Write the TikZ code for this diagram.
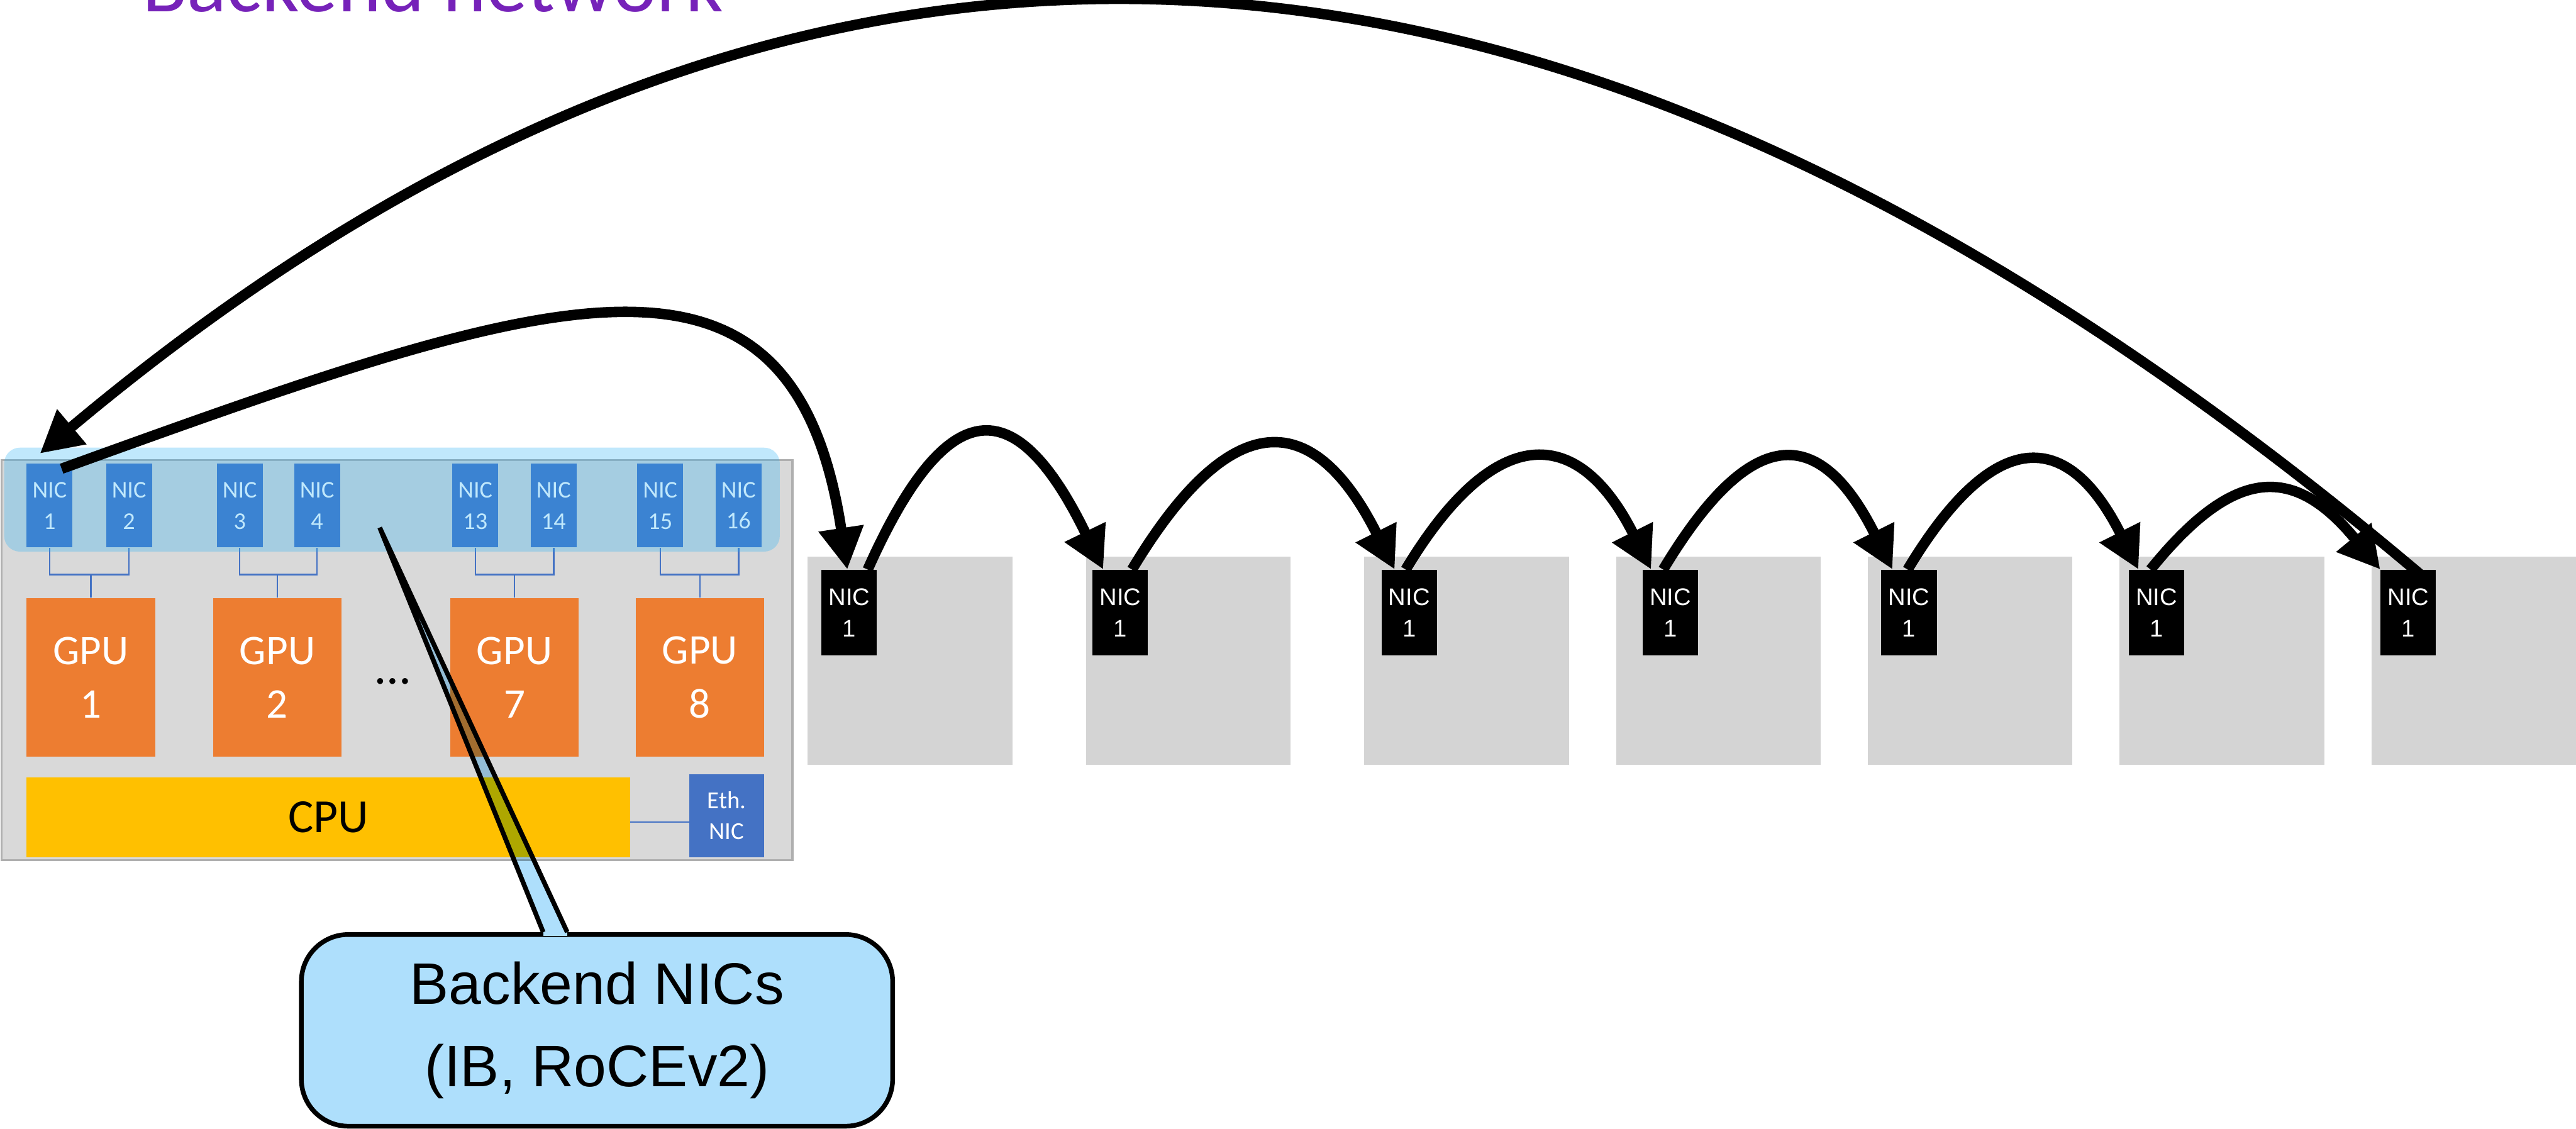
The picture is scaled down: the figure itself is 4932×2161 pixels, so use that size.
\documentclass[tikz,border=0pt]{standalone}
\usepackage{fontspec}
\setmainfont{Liberation Sans}
\newfontfamily\calibri{Carlito}
\usetikzlibrary{arrows.meta}

\definecolor{srvgray}{RGB}{217,217,217}
\definecolor{srvedge}{RGB}{175,175,175}
\definecolor{boxgray}{RGB}{212,212,212}
\definecolor{nicblue}{RGB}{68,114,196}
\definecolor{gpuorange}{RGB}{237,125,49}
\definecolor{cpuyellow}{RGB}{255,192,0}
\definecolor{hlblue}{RGB}{38,176,245}
\definecolor{noteblue}{RGB}{174,223,252}
\definecolor{titlepurple}{RGB}{118,34,185}

\tikzset{
  srvnic/.style={fill=nicblue, text=white, inner sep=0pt, minimum width=8.8mm, minimum height=16mm, align=center, font=\calibri\fontsize{13.1pt}{17pt}\selectfont},
  gpu/.style={fill=gpuorange, text=white, inner sep=0pt, minimum width=24.6mm, minimum height=30.4mm, align=center, font=\calibri\fontsize{23pt}{29.3pt}\selectfont},
  link/.style={draw=nicblue, line width=0.3mm},
  host/.style={fill=boxgray, inner sep=0pt, minimum width=39.2mm, minimum height=39.8mm},
  rnic/.style={fill=black, text=white, inner sep=0pt, minimum width=10.6mm, minimum height=16.4mm, align=center, font=\fontsize{13.1pt}{17.4pt}\selectfont},
  ring/.style={line width=2mm, -{Triangle[length=8mm,width=8.2mm]}},
}

\begin{document}
\begin{tikzpicture}[x=0.1mm, y=-0.1mm]
\path[use as bounding box, clip] (0,0) rectangle (4932,2161);

\node[anchor=base west, inner sep=0pt, text=titlepurple, font=\calibri\fontsize{45pt}{54pt}\selectfont] (title) at (272,22) {Backend network};

% the server
\node[fill=srvgray, draw=srvedge, line width=0.4mm, inner sep=0pt, minimum width=151.4mm, minimum height=76.6mm] (server) at (760,1264) {};

\node[srvnic] (snic1) at (95,968) {NIC\\1};
\node[srvnic] (snic2) at (247,968) {NIC\\2};
\node[srvnic] (snic3) at (459,968) {NIC\\3};
\node[srvnic] (snic4) at (607,968) {NIC\\4};
\node[srvnic] (snic13) at (910,968) {NIC\\13};
\node[srvnic] (snic14) at (1060,968) {NIC\\14};
\node[srvnic] (snic15) at (1264,968) {NIC\\15};
\node[srvnic] (snic16) at (1414,968) {NIC\\16};

\node[gpu] (gpu1) at (174,1297) {GPU\\1};
\node[gpu] (gpu2) at (531,1297) {GPU\\2};
\node[gpu] (gpu7) at (985,1297) {GPU\\7};
\node[gpu] (gpu8) at (1340,1297) {GPU\\8};
\node[inner sep=0pt, font=\calibri\fontsize{27pt}{30pt}\selectfont] (dots) at (752,1305) {…};

\draw[link] (snic1.south) -- ++(0,51) -| (snic2.south);
\draw[link] (gpu1.north) -- ++(0,-46);
\draw[link] (snic3.south) -- ++(0,51) -| (snic4.south);
\draw[link] (gpu2.north) -- ++(0,-46);
\draw[link] (snic13.south) -- ++(0,51) -| (snic14.south);
\draw[link] (gpu7.north) -- ++(0,-46);
\draw[link] (snic15.south) -- ++(0,51) -| (snic16.south);
\draw[link] (gpu8.north) -- ++(0,-46);

\node[fill=cpuyellow, inner sep=0pt, minimum width=115.5mm, minimum height=15.3mm, font=\calibri\fontsize{25.9pt}{30pt}\selectfont] (cpu) at (628.5,1564.5) {CPU};
\node[fill=nicblue, text=white, inner sep=0pt, minimum width=14.3mm, minimum height=15.9mm, align=center, font=\calibri\fontsize{13.3pt}{17pt}\selectfont] (ethnic) at (1391.5,1561.5) {Eth.\\NIC};
\draw[link] ([yshift=-0.9mm]cpu.east) -- ([yshift=-0.9mm]cpu.east -| ethnic.west);

\node[fill=hlblue, fill opacity=0.29, rounded corners=3mm, inner sep=0pt, minimum width=148.5mm, minimum height=19.9mm] (backend) at (750.5,956.5) {};

% the other servers
\node[host] (host1) at (1742,1265) {};
\node[host] (host2) at (2275,1265) {};
\node[host] (host3) at (2808,1265) {};
\node[host] (host4) at (3290,1265) {};
\node[host] (host5) at (3772,1265) {};
\node[host] (host6) at (4254,1265) {};
\node[host] (host7) at (4737,1265) {};

\node[rnic] (r1) at (1626,1173) {NIC\\1};
\node[rnic] (r2) at (2145,1173) {NIC\\1};
\node[rnic] (r3) at (2698,1173) {NIC\\1};
\node[rnic] (r4) at (3198,1173) {NIC\\1};
\node[rnic] (r5) at (3655,1173) {NIC\\1};
\node[rnic] (r6) at (4129,1173) {NIC\\1};
\node[rnic] (r7) at (4611,1173) {NIC\\1};

% callout
\node[draw=black, line width=0.9mm, fill=noteblue, rounded corners=9mm, inner sep=0pt, minimum width=113.2mm, minimum height=36.7mm, align=center, font=\fontsize{31.9pt}{45pt}\selectfont] (note) at (1143,1972.5) {Backend NICs\\(IB, RoCEv2)};
\coordinate (ptip) at (727,1010);
\begin{scope}[blend mode=multiply]
\fill[noteblue] (ptip) -- ([xshift=-10.3mm]note.north) -- ([xshift=-5.7mm]note.north) -- cycle;
\end{scope}
\fill[noteblue] ([xshift=-10.3mm,yshift=0.7mm]note.north) rectangle ([xshift=-5.7mm,yshift=-0.7mm]note.north);
\draw[line width=0.9mm] ([xshift=-10.3mm]note.north) -- (ptip) -- ([xshift=-5.7mm]note.north);

% ring
\draw[ring] ([shift={(23,10)}]snic1.north) .. controls +(940,-340) and +(-105,-693) .. ([xshift=5mm]r1.north west);
\draw[ring] ([xshift=8.9mm]r1.north west) .. controls +(153,-343) and +(-167,-343) .. ([xshift=2.1mm]r2.north west);
\draw[ring] ([xshift=7.6mm]r2.north west) .. controls +(188,-313) and +(-157,-313) .. ([xshift=2.6mm]r3.north west);
\draw[ring] ([xshift=4.7mm]r3.north west) .. controls +(169,-281) and +(-141,-281) .. ([xshift=1.7mm]r4.north west);
\draw[ring] ([xshift=4mm]r4.north west) .. controls +(168,-280) and +(-140,-280) .. ([xshift=2.2mm]r5.north west);
\draw[ring] ([xshift=5.1mm]r5.north west) .. controls +(164,-273) and +(-137,-273) .. ([xshift=1.9mm]r6.north west);
\draw[ring] ([xshift=4.2mm]r6.north west) .. controls +(162,-200) and +(-165,-200) .. (r7.north west);
\draw[ring] ([shift={(-30,10)}]r7.north east) .. controls +(-1539,-1300) and +(1537,-1290) .. ([shift={(26,-19)}]snic1.north west);
\end{tikzpicture}
\end{document}
